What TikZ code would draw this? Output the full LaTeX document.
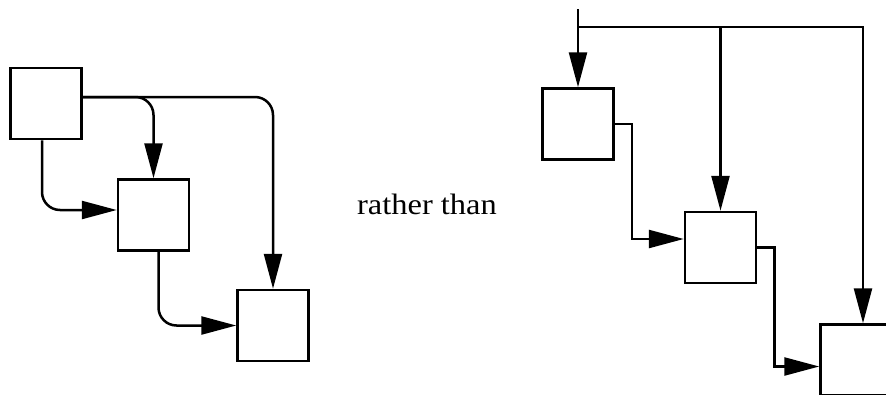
\documentclass[tikz,border=0pt]{standalone}
\usepackage{fontspec}
\setmainfont{Liberation Serif}
\usepackage{graphicx}
\usetikzlibrary{positioning,arrows.meta}

\begin{document}
\begin{tikzpicture}[
    x=1pt, y=-1pt,
    box/.style={
        draw,
        line width=2.5pt,
        fill=white,
        minimum width=71pt,
        minimum height=71pt,
        inner sep=0pt
    },
    arrow/.style={
        -{Triangle[length=35pt,width=18pt]},
        line width=2.5pt
    }
]
    \useasboundingbox (0,0) rectangle (886,394);
    \clip (0,0) rectangle (886,394);

    % ---------------------------------------------------------
    % LEFT: ROUNDED CONNECTORS
    % ---------------------------------------------------------
    \node[box] (a) at (46,103.5) {};
    \node[box, below right=38pt and 34pt of a] (b) {};
    \node[box, below right=37pt and 46pt of b] (c) {};

    \draw[arrow, rounded corners=18pt] ([yshift=6.5pt]a.east) -| (b.north);
    \draw[arrow, rounded corners=18pt] ([yshift=6.5pt]a.east) -| (c.north);
    \draw[arrow, rounded corners=18pt] ([xshift=-4pt]a.south) |- ([yshift=5pt]b.west);
    \draw[arrow, rounded corners=18pt] ([xshift=5pt]b.south) |- (c.west);

    % ---------------------------------------------------------
    % MIDDLE
    % ---------------------------------------------------------
    \node[anchor=base, inner sep=0pt] (txt) at (427,214) {\fontsize{29.5}{34}\selectfont\scalebox{1.1}[1]{rather than}};

    % ---------------------------------------------------------
    % RIGHT: SQUARE CONNECTORS
    % ---------------------------------------------------------
    \node[box] (d) at (578,124) {};
    \node[box, below right=50pt and 69pt of d] (e) {};
    \node[box, below right=39pt and 62pt of e] (f) {};

    \coordinate (src) at (578,9);
    \coordinate (bus) at (578,27);

    \draw[arrow] (src) -- (d.north);
    \draw[arrow] (bus) -| ([xshift=7pt]f.north);
    \draw[arrow] (e.north |- bus) -- (e.north);
    \draw[arrow] (d.east) -- ++(17,0) |- ([yshift=8.5pt]e.west);
    \draw[arrow] (e.east) -- ++(17,0) |- ([yshift=-6.5pt]f.west);

\end{tikzpicture}
\end{document}
